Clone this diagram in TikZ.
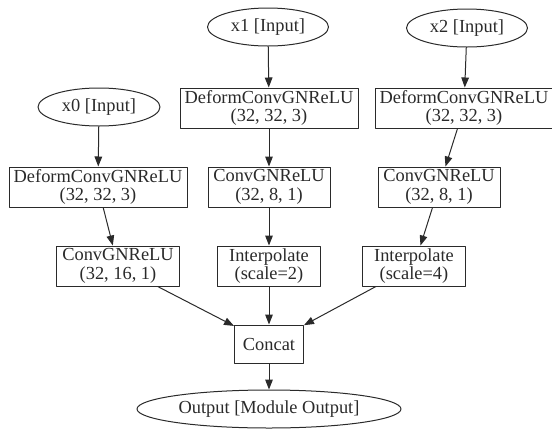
\documentclass[tikz,border=0pt]{standalone}
\usepackage{fontspec}
\setmainfont{Liberation Serif}
\usetikzlibrary{arrows.meta, shapes.geometric}
\definecolor{ink}{HTML}{2A2A2A}
\tikzset{el/.style={line cap=round, line join=round},
  lbl/.style={text=ink, align=center, font=\fontsize{9.2}{9.4}\selectfont, inner sep=0pt},
  blk/.style={lbl, draw=ink, line width=0.5pt, rectangle, minimum width=#1, minimum height=20pt},
  io/.style={lbl, draw=ink, line width=0.5pt, ellipse, minimum width=#1, minimum height=19pt},
  arr/.style={ink, line width=0.5pt, -{Triangle[length=5pt,width=3.8pt]}}}

\begin{document}
\begin{tikzpicture}[el, x=0.5pt, y=-0.5pt]
  \useasboundingbox (0,0) rectangle (552,434);
  \node[io=60.5pt] (x1in) at (268,27) {x1 [Input]};
  \node[io=60.5pt] (x2in) at (467,28) {x2 [Input]};
  \node[io=61pt] (x0in) at (99,107) {x0 [Input]};
  \node[blk=89pt] (d1) at (269,108) {DeformConvGNReLU\\(32, 32, 3)};
  \node[blk=89pt] (d2) at (464,108) {DeformConvGNReLU\\(32, 32, 3)};
  \node[blk=89pt] (d0) at (98,187) {DeformConvGNReLU\\(32, 32, 3)};
  \node[blk=61pt] (c1) at (269,187) {ConvGNReLU\\(32, 8, 1)};
  \node[blk=61pt] (c2) at (439,187) {ConvGNReLU\\(32, 8, 1)};
  \node[blk=61.5pt] (c0) at (118,266) {ConvGNReLU\\(32, 16, 1)};
  \node[blk=51.5pt] (i1) at (269,266) {Interpolate\\(scale=2)};
  \node[blk=51.5pt] (i2) at (414,266) {Interpolate\\(scale=4)};
  \node[blk=34.5pt, minimum height=19pt] (cat) at (269,344) {Concat};
  \node[io=132pt] (out) at (269,409) {Output [Module Output]};
  \foreach \a/\b in {x0in/d0,d0/c0,c0/cat,x1in/d1,d1/c1,c1/i1,i1/cat,x2in/d2,d2/c2,c2/i2,i2/cat,cat/out}{
     \draw[arr] (\a)--(\b);}
\end{tikzpicture}
\end{document}
